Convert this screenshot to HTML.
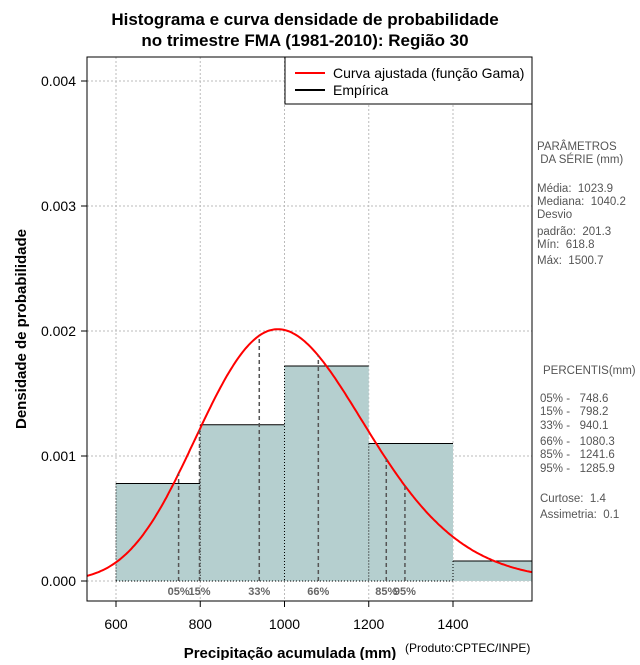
<!DOCTYPE html>
<html><head><meta charset="utf-8"><style>
body{margin:0;background:#fff;}
svg{font-family:"Liberation Sans",sans-serif;}
svg text{white-space:pre;}
</style></head><body>
<svg id="c" width="640" height="660" viewBox="0 0 640 660" xmlns="http://www.w3.org/2000/svg">
<text x="305" y="25" text-anchor="middle" font-size="17" font-weight="bold">Histograma e curva densidade de probabilidade</text>
<text x="305" y="46" text-anchor="middle" font-size="17" font-weight="bold">no trimestre FMA (1981-2010): Região 30</text>
<defs><clipPath id="clip"><rect x="87" y="57" width="445" height="544"/></clipPath></defs>
<g id="grid"></g>
<g id="bars" clip-path="url(#clip)"></g>
<g id="curve" clip-path="url(#clip)"></g>
<g id="pct"></g>
<g id="axes"></g>
<rect x="87" y="57" width="445" height="544" fill="none" stroke="#000"/>
<g>
<rect x="285" y="57" width="247" height="47" fill="#fff" stroke="#000"/>
<line x1="295" y1="73" x2="325" y2="73" stroke="#f00" stroke-width="2"/>
<text x="333" y="78" font-size="14">Curva ajustada (função Gama)</text>
<line x1="295" y1="90" x2="325" y2="90" stroke="#000" stroke-width="2"/>
<text x="333" y="95" font-size="14">Empírica</text>
</g>
<text x="290" y="658" text-anchor="middle" font-size="15" font-weight="bold">Precipitação acumulada (mm)</text>
<text x="405" y="652" font-size="12">(Produto:CPTEC/INPE)</text>
<text transform="translate(26,329) rotate(-90)" text-anchor="middle" font-size="15" font-weight="bold">Densidade de probabilidade</text>
<g font-size="11.5" fill="#555">
<text x="537" y="150">PARÂMETROS</text>
<text x="537" y="163"> DA SÉRIE (mm)</text>
<text x="537" y="192">Média:  1023.9</text>
<text x="537" y="205">Mediana:  1040.2</text>
<text x="537" y="218">Desvio</text>
<text x="537" y="235">padrão:  201.3</text>
<text x="537" y="248">Mín:  618.8</text>
<text x="537" y="264">Máx:  1500.7</text>
<text x="543" y="374">PERCENTIS(mm)</text>
<text x="540" y="402">05% -   748.6</text>
<text x="540" y="415">15% -   798.2</text>
<text x="540" y="429">33% -   940.1</text>
<text x="540" y="445">66% -   1080.3</text>
<text x="540" y="458">85% -   1241.6</text>
<text x="540" y="472">95% -   1285.9</text>
<text x="540" y="502">Curtose:  1.4</text>
<text x="540" y="518">Assimetria:  0.1</text>
</g>
</svg>
<script>
const binEdges=[600,800,1000,1200,1400,1600];
const binDensity=[0.00078,0.00125,0.00172,0.0011,0.00016];
const xTicks=[600,800,1000,1200,1400];
const yTicks=[0,0.001,0.002,0.003,0.004];
const yTickLabels=["0.000","0.001","0.002","0.003","0.004"];
const pctLabels=["05%","15%","33%","66%","85%","95%"];
const pctValues=[748.6,798.2,940.1,1080.3,1241.6,1285.9];
const meanVal=1023.9;
const sdVal=201.3;

const NS="http://www.w3.org/2000/svg";
const X=v=>116+(v-600)*(337/800);
const Y=v=>581-v*125000;
function mk(tag,attrs,parent){const e=document.createElementNS(NS,tag);for(const k in attrs)e.setAttribute(k,attrs[k]);document.getElementById(parent).appendChild(e);return e;}
const shape=(meanVal/sdVal)**2, scale=sdVal*sdVal/meanVal;
function lgamma(z){const g=7,c=[0.99999999999980993,676.5203681218851,-1259.1392167224028,771.32342877765313,-176.61502916214059,12.507343278686905,-0.13857109526572012,9.9843695780195716e-6,1.5056327351493116e-7];z-=1;let x=c[0];for(let i=1;i<g+2;i++)x+=c[i]/(z+i);const t=z+g+0.5;return 0.5*Math.log(2*Math.PI)+(z+0.5)*Math.log(t)-t+Math.log(x);}
const lg=lgamma(shape);
const dens=x=>Math.exp((shape-1)*Math.log(x)-x/scale-lg-shape*Math.log(scale));

xTicks.forEach(t=>{const l=mk('line',{x1:X(t),x2:X(t),y1:57,y2:601,stroke:'#bbb','stroke-dasharray':'2,2'},'grid');

});
yTicks.forEach(t=>{const l=mk('line',{x1:87,x2:532,y1:Y(t),y2:Y(t),stroke:'#bbb','stroke-dasharray':'2,2'},'grid');

});
binDensity.forEach((d,i)=>{const x0=X(binEdges[i]),x1=X(binEdges[i+1]);
const r=mk('rect',{x:x0,y:Y(d),width:x1-x0,height:Y(0)-Y(d),fill:'#b5cfcf'},'bars');


const t=mk('line',{x1:x0,x2:x1,y1:Y(d),y2:Y(d),stroke:'#000','stroke-width':1},'bars');


const s=mk('line',{x1:x0,x2:x0,y1:Y(d),y2:Y(0),stroke:'#000','stroke-dasharray':'1,2'},'bars');

});
const bl=mk('line',{x1:X(600),x2:X(1400),y1:Y(0),y2:Y(0),stroke:'#000','stroke-dasharray':'1,2'},'bars');


let p='';for(let v=520;v<=1600;v+=4){p+=(p?'L':'M')+X(v).toFixed(1)+','+Y(dens(v)).toFixed(1);}
const cv=mk('path',{d:p,fill:'none',stroke:'#f00','stroke-width':2},'curve');


pctValues.forEach((v,i)=>{const l=mk('line',{x1:X(v),x2:X(v),y1:Y(0),y2:Y(dens(v)),stroke:'#555','stroke-width':1.5,'stroke-dasharray':'4,3'},'pct');


const t=mk('text',{x:X(v),y:595,'text-anchor':'middle','font-size':11,'font-weight':'bold',fill:'#666'},'pct');t.textContent=pctLabels[i];

});
xTicks.forEach(t=>{const l=mk('line',{x1:X(t),x2:X(t),y1:601,y2:607,stroke:'#000'},'axes');


const tx=mk('text',{x:X(t),y:629,'text-anchor':'middle','font-size':14},'axes');tx.textContent=t;

});
yTicks.forEach((t,i)=>{const l=mk('line',{x1:81,x2:87,y1:Y(t),y2:Y(t),stroke:'#000'},'axes');


const tx=mk('text',{x:76,y:Y(t)+5,'text-anchor':'end','font-size':14},'axes');tx.textContent=yTickLabels[i];

});
</script>
</body></html>
